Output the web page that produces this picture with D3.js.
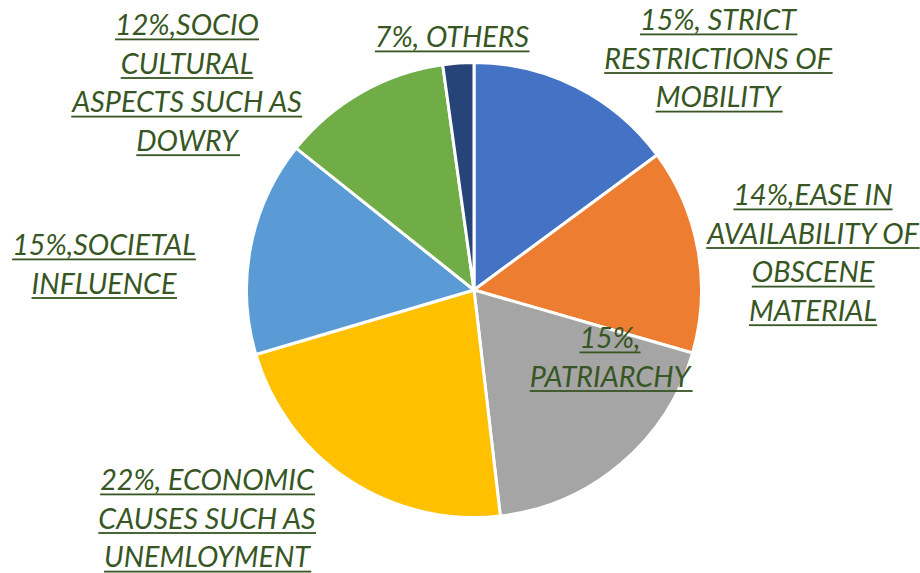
<!DOCTYPE html>
<html><head><meta charset="utf-8">
<script src="https://cdn.jsdelivr.net/npm/d3@7"></script>
<style>body{margin:0;background:#fff;}svg{display:block;}</style>
</head><body>
<svg id="c" width="920" height="573"></svg>
<script>
// Data (slice sizes; label texts as printed)
const categories = ["STRICT RESTRICTIONS OF MOBILITY","EASE IN AVAILABILITY OF OBSCENE MATERIAL","PATRIARCHY","ECONOMIC CAUSES SUCH AS UNEMLOYMENT","SOCIETAL INFLUENCE","SOCIO CULTURAL ASPECTS SUCH AS DOWRY","OTHERS"];
const values = [14.9, 14.6, 18.7, 22.3, 15.3, 12.1, 2.2];
const labelLines = [
  ["15%, STRICT","RESTRICTIONS OF","MOBILITY"],
  ["14%,EASE IN","AVAILABILITY OF","OBSCENE","MATERIAL"],
  ["15%,","PATRIARCHY"],
  ["22%, ECONOMIC","CAUSES SUCH AS","UNEMLOYMENT"],
  ["15%,SOCIETAL","INFLUENCE"],
  ["12%,SOCIO","CULTURAL","ASPECTS SUCH AS","DOWRY"],
  ["7%, OTHERS"]
];
const colors = ["#4472C4","#ED7D31","#A5A5A5","#FFC000","#5B9BD5","#70AD47","#264478"];
// label layout: centre x and first baseline y
const labelLayout = [[718,30],[813,205],[610,348],[207,490],[104,255],[187,35],[452,47]];

const svg = d3.select("#c");
const cx = 474, cy = 290, R = 227.5;
const pie = d3.pie().sort(null).value(d => d)(values);
const arc = d3.arc().innerRadius(0).outerRadius(R);
const g = svg.append("g").attr("transform", `translate(${cx},${cy})`);
g.selectAll("path").data(pie).join("path")
  .attr("d", arc).attr("fill", (d,i) => colors[i])
  .attr("stroke", "#fff").attr("stroke-width", 3).attr("stroke-linejoin","round");

const fs = 28.7, lh = 38.6;
const lbl = svg.append("g").attr("font-family","Lato, 'Open Sans', sans-serif")
  .attr("font-style","italic").attr("font-size",fs).attr("fill","#375623");
labelLines.forEach((lines,i) => {
  const [x,y] = labelLayout[i];
  lines.forEach((t,j) => {
    const tx = lbl.append("text").attr("x",x).attr("y",y + j*lh)
      .attr("text-anchor","middle").text(t);
    const bb = tx.node().getBBox();
    lbl.append("rect").attr("x",bb.x).attr("y",y + j*lh + 3.5)
      .attr("width",bb.width).attr("height",1.8).attr("fill","#375623");
  });
});
</script>
</body></html>
